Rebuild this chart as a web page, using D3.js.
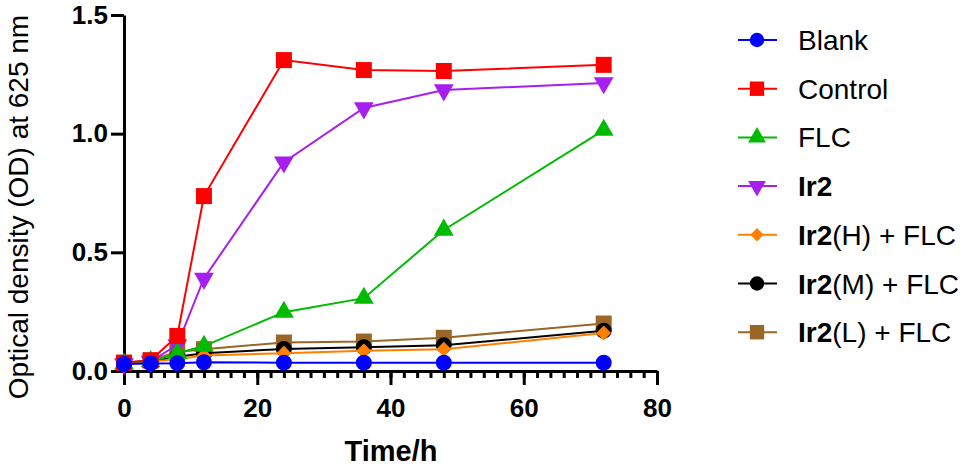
<!DOCTYPE html>
<html>
<head>
<meta charset="utf-8">
<script src="https://cdn.jsdelivr.net/npm/d3@7"></script>
<style>
  body { margin: 0; background: #fff; }
  svg { display: block; font-family: "Liberation Sans", Arial, sans-serif; }
</style>
</head>
<body>
<svg id="chart" width="973" height="468"></svg>
<script>
// Sampling times (h)
const times = [0, 4, 8, 12, 24, 36, 48, 72];

// OD625 readings for each group
const blank   = [0.030, 0.032, 0.033, 0.037, 0.035, 0.035, 0.035, 0.035];
const control = [0.035, 0.045, 0.148, 0.737, 1.310, 1.268, 1.264, 1.290];
const flc     = [0.030, 0.040, 0.075, 0.105, 0.248, 0.307, 0.594, 1.015];
const ir2     = [0.030, 0.040, 0.110, 0.390, 0.880, 1.108, 1.184, 1.214];
const ir2H    = [0.030, 0.040, 0.050, 0.065, 0.075, 0.085, 0.092, 0.160];
const ir2M    = [0.030, 0.040, 0.060, 0.075, 0.093, 0.100, 0.108, 0.170];
const ir2L    = [0.035, 0.045, 0.080, 0.092, 0.120, 0.124, 0.140, 0.200];

const xTicks = [0, 20, 40, 60, 80];
const yTicks = [0, 0.5, 1.0, 1.5];

// legend order; bold part + normal part of each label
const series = [
    { bold: "",    rest: "Blank",     values: blank,   color: "#0000ff", shape: "circle" },
    { bold: "",    rest: "Control",   values: control, color: "#ff0000", shape: "square" },
    { bold: "",    rest: "FLC",       values: flc,     color: "#00bb00", shape: "triangle" },
    { bold: "Ir2", rest: "",          values: ir2,     color: "#a61ff0", shape: "triangleDown" },
    { bold: "Ir2", rest: "(H) + FLC", values: ir2H,    color: "#ff8000", shape: "diamond" },
    { bold: "Ir2", rest: "(M) + FLC", values: ir2M,    color: "#000000", shape: "circle" },
    { bold: "Ir2", rest: "(L) + FLC", values: ir2L,    color: "#996628", shape: "square" }
];

const svg = d3.select("#chart");

const x = d3.scaleLinear().domain([0, 80]).range([124, 657]);
const y = d3.scaleLinear().domain([0, 1.5]).range([371, 15]);

// marker drawing
function marker(sel, shape, color, k) {
    if (shape === "circle") {
        sel.append("circle").attr("r", 8 * k).attr("fill", color);
        return;
    }
    let type = d3.symbolSquare, size = 256, rot = 0;
    if (shape === "triangle") { type = d3.symbolTriangle; size = 170; }
    if (shape === "triangleDown") { type = d3.symbolTriangle; size = 170; rot = 180; }
    if (shape === "diamond") { type = d3.symbolSquare; size = 110; rot = 45; }
    sel.append("path")
        .attr("d", d3.symbol().type(type).size(size * k * k))
        .attr("transform", `rotate(${rot})`)
        .attr("fill", color);
}

// axes
const xMinor = svg.append("g")
    .attr("transform", `translate(0,${y(0)})`)
    .call(d3.axisBottom(x).tickValues(d3.range(0, 81, 2)).tickSize(7).tickSizeOuter(0).tickFormat(""));
xMinor.select(".domain").remove();
xMinor.selectAll("line").attr("stroke-width", 3);

const xAxis = svg.append("g")
    .attr("transform", `translate(0,${y(0)})`)
    .call(d3.axisBottom(x).tickValues(xTicks).tickSize(14).tickSizeOuter(0).tickPadding(14));

const yAxis = svg.append("g")
    .attr("transform", `translate(${x(0)},0)`)
    .call(d3.axisLeft(y).tickValues(yTicks).tickSize(13).tickSizeOuter(0).tickPadding(3)
        .tickFormat(d3.format(".1f")));

[xAxis, yAxis].forEach(g => {
    g.select(".domain").attr("stroke-width", 3);
    g.selectAll("line").attr("stroke-width", 3);
    g.selectAll("text")
        .attr("font-family", "Liberation Sans, Arial, sans-serif")
        .attr("font-weight", "bold")
        .attr("font-size", 26)
        .attr("fill", "#000");
});

// axis titles
svg.append("text")
    .attr("x", 391)
    .attr("y", 461)
    .attr("text-anchor", "middle")
    .attr("font-size", 29)
    .attr("font-weight", "bold")
    .text("Time/h");

svg.append("text")
    .attr("transform", "translate(28,207) rotate(-90)")
    .attr("text-anchor", "middle")
    .attr("font-size", 28)
    .text("Optical density (OD) at 625 nm");

// series, drawn back to front (Blank ends up on top)
const line = d3.line()
    .x((d, i) => x(times[i]))
    .y(d => y(d));

series.slice().reverse().forEach(s => {
    const g = svg.append("g");
    g.append("path")
        .attr("d", line(s.values))
        .attr("fill", "none")
        .attr("stroke", s.color)
        .attr("stroke-width", 2);
    s.values.forEach((v, i) => {
        const m = g.append("g").attr("transform", `translate(${x(times[i])},${y(v)})`);
        marker(m, s.shape, s.color, 1);
    });
});

// legend
const legend = svg.append("g");
series.forEach((s, i) => {
    const cy = 40 + i * 48.7;
    const row = legend.append("g").attr("transform", `translate(0,${cy})`);
    row.append("line")
        .attr("x1", 738).attr("x2", 777)
        .attr("stroke", s.color)
        .attr("stroke-width", 2);
    marker(row.append("g").attr("transform", "translate(757,0)"), s.shape, s.color, 0.9);
    const t = row.append("text")
        .attr("x", 798)
        .attr("y", 10)
        .attr("font-size", 28);
    if (s.bold) t.append("tspan").attr("font-weight", "bold").text(s.bold);
    if (s.rest) t.append("tspan").text(s.rest);
});
</script>
</body>
</html>
